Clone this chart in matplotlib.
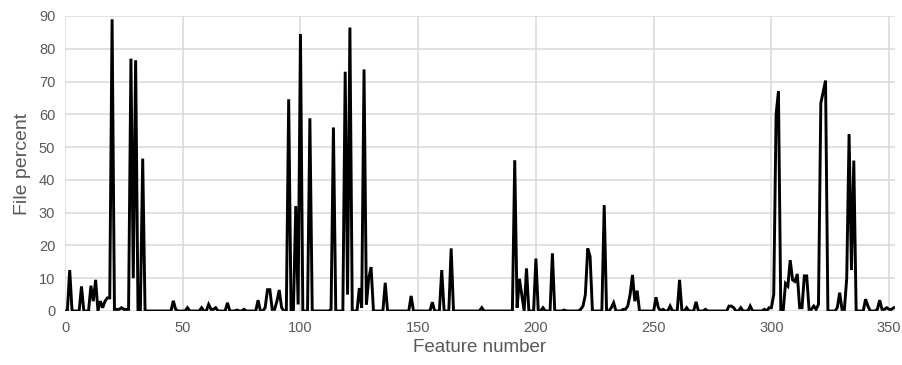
import matplotlib
matplotlib.use("Agg")
import matplotlib.pyplot as plt
import numpy as np

plt.rcParams['font.family'] = ['Liberation Sans', 'DejaVu Sans']

# File percent per feature number (0..352)
file_percent = [
    # 0-9
    0, 0, 12.5, 0, 0, 0, 0, 7.5, 0, 0,
    # 10-19
    0, 7.7, 3, 9.5, 0, 3, 1, 3, 4, 4,
    # 20-29
    89, 0.5, 0.5, 0.5, 1, 0.5, 0.5, 0.5, 77, 10,
    # 30-39
    76.5, 0, 0, 46.5, 0, 0, 0, 0, 0, 0,
    # 40-49
    0, 0, 0, 0, 0, 0, 3.1, 0.5, 0, 0,
    # 50-59
    0, 0, 1, 0, 0, 0, 0, 0, 1, 0,
    # 60-69
    0, 2, 0.5, 0.5, 1, 0, 0, 0, 0, 2.5,
    # 70-79
    0, 0, 0, 0.3, 0, 0, 0.5, 0, 0, 0,
    # 80-89
    0, 0, 3.3, 0, 0, 1, 6.5, 6.5, 0.5, 0.5,
    # 90-99
    3, 6.4, 1, 0, 0, 64.6, 0, 0, 32, 2,
    # 100-109
    84.5, 0, 0, 0, 58.8, 0, 0, 0, 0, 0,
    # 110-119
    0, 0, 0, 0.5, 56, 0, 0, 0, 0, 73,
    # 120-129
    5, 86.5, 0, 0, 0, 7, 1, 73.7, 2, 10,
    # 130-139
    13.4, 0, 0, 0, 0, 0, 8.6, 0, 0, 0,
    # 140-149
    0, 0, 0, 0, 0, 0, 0, 4.6, 0, 0,
    # 150-159
    0, 0, 0, 0, 0, 0, 2.7, 0, 0, 0,
    # 160-169
    12.5, 0, 0, 0, 19.1, 0, 0, 0, 0, 0,
    # 170-179
    0, 0, 0, 0, 0, 0, 0, 1, 0, 0,
    # 180-189
    0, 0, 0, 0, 0, 0, 0, 0, 0, 0,
    # 190-199
    0, 46, 1, 9.8, 5, 0, 13, 0, 0, 0,
    # 200-209
    16, 0, 0, 1, 0, 0, 0, 17.6, 0, 0,
    # 210-219
    0, 0, 0.3, 0, 0, 0, 0, 0, 0, 0.5,
    # 220-229
    1.5, 5, 19.1, 16.6, 0, 0, 0, 0, 0, 32.3,
    # 230-239
    0, 0, 1, 2.5, 0, 0, 0, 0.5, 0.5, 1.5,
    # 240-249
    5, 11, 3, 6.2, 0, 0, 0, 0, 0, 0,
    # 250-259
    0, 4.2, 1, 0, 0.5, 0, 0, 1.5, 0, 0,
    # 260-269
    0, 9.5, 0, 0, 1, 0, 0, 0, 2.8, 0,
    # 270-279
    0, 0, 0.5, 0, 0, 0, 0, 0, 0, 0,
    # 280-289
    0, 0, 1.5, 1.5, 1, 0, 0, 1, 0, 0,
    # 290-299
    0, 1.5, 0, 0, 0, 0, 0, 0.5, 0, 1,
    # 300-309
    1, 5, 60, 67, 0, 0, 8.4, 7.6, 15.5, 9.5,
    # 310-319
    9, 11.3, 1, 1, 10.7, 10.7, 0.5, 0.5, 1.5, 0.5,
    # 320-329
    2, 63.4, 66.8, 70.3, 0, 0, 0, 0, 1, 5.6,
    # 330-339
    0.5, 0.5, 10, 54, 12.5, 45.9, 0, 0, 0, 0,
    # 340-349
    3.6, 1.5, 0, 0, 0, 0.5, 3.3, 0.5, 0.5, 1,
    # 350-352
    0.5, 0.5, 1,
]
feature_number = list(range(len(file_percent)))

x_ticks = [0, 50, 100, 150, 200, 250, 300, 350]
y_ticks = [0, 10, 20, 30, 40, 50, 60, 70, 80, 90]

fig = plt.figure(figsize=(9.02, 3.65), dpi=100)
ax = fig.add_axes([65 / 902, 1 - 311 / 365, (895 - 65) / 902, (311 - 16) / 365])

ax.plot(feature_number, file_percent, color='black', lw=2.1, solid_joinstyle='miter', zorder=3)

ax.set_xlim(0, 352.5)
ax.set_ylim(0, 90)
ax.set_xticks(x_ticks)
ax.set_yticks(y_ticks)
ax.grid(True, color='#d9d9d9', lw=1.1, zorder=0)
ax.set_axisbelow(True)
for s in ax.spines.values():
    s.set_visible(False)
ax.tick_params(length=0, colors='#595959', labelsize=10.5, pad=7)
ax.set_xlabel('Feature number', fontsize=13.5, color='#595959', labelpad=3)
ax.set_ylabel('File percent', fontsize=14, color='#595959', labelpad=6)

fig.savefig('out.png', dpi=100)
